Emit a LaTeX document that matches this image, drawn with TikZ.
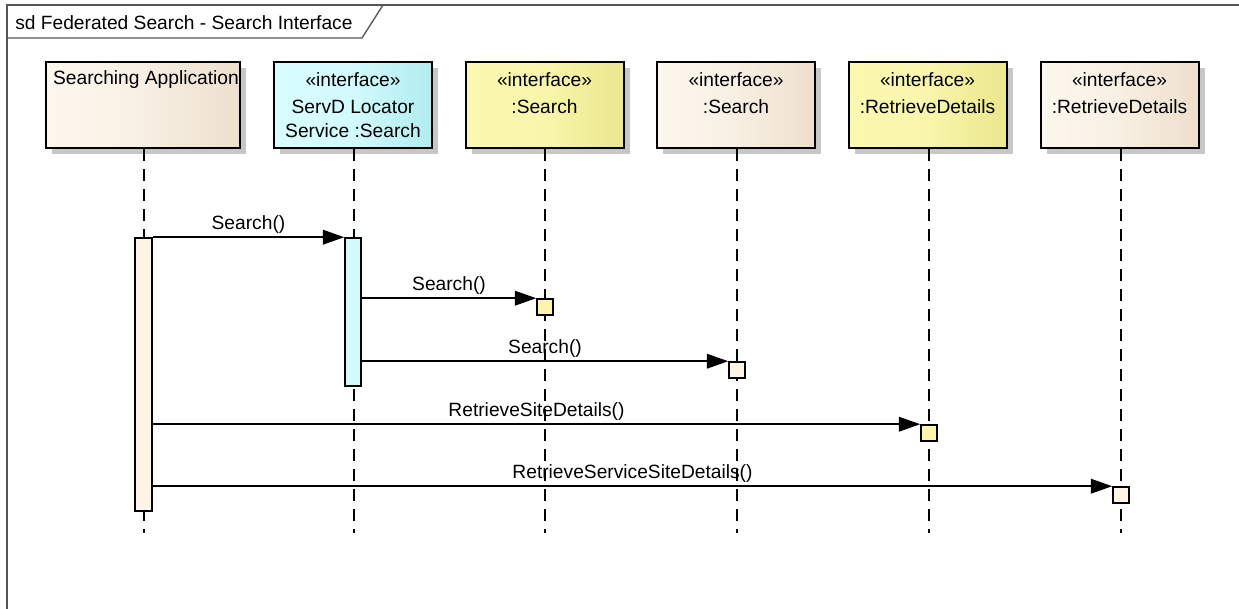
\documentclass[tikz,border=0pt]{standalone}
\usepackage{fontspec}
\setmainfont{Liberation Sans}
\usetikzlibrary{arrows.meta,shadows,calc}
\definecolor{creamL}{HTML}{FDF7EE}
\definecolor{creamR}{HTML}{EDDFCB}
\definecolor{cyanL}{HTML}{D8FDFF}
\definecolor{cyanR}{HTML}{B0ECF0}
\definecolor{yelL}{HTML}{FBF9B0}
\definecolor{yelR}{HTML}{EAE78C}
\definecolor{actcream}{HTML}{FDF4E6}
\definecolor{actcyan}{HTML}{D2FAFC}
\definecolor{actyel}{HTML}{FCF6AC}
\definecolor{framecol}{HTML}{555555}
\tikzset{
  hbox/.style={draw=black, line width=1.5pt, minimum width=118.5pt, minimum height=64.5pt, inner sep=0pt,
    drop shadow={shadow xshift=4.5pt, shadow yshift=-4.5pt, fill=black!22, opacity=1}},
  creambox/.style={hbox, left color=creamL, right color=creamR, middle color=creamL!70!creamR},
  cyanbox/.style={hbox, left color=cyanL, right color=cyanR, middle color=cyanL!85!cyanR},
  yelbox/.style={hbox, left color=yelL, right color=yelR, middle color=yelL!85!yelR},
  txt/.style={font=\fontsize{14.4}{16}\selectfont, inner sep=0pt},
  htxt/.style={txt, yshift=-1.5pt},
  life/.style={line width=1.4pt, dash pattern=on 9pt off 6pt},
  actbox/.style={draw=black, line width=1.2pt, inner sep=0pt, minimum width=12pt},
  msg/.style={line width=1.1pt, -{Triangle[length=16pt,width=11pt]}},
  mlabel/.style={txt, above, inner sep=0pt, yshift=2pt}
}
\begin{document}
\begin{tikzpicture}[x=0.75pt,y=-0.75pt]
\useasboundingbox (0,0) rectangle (1239,608);
% frame
\draw[framecol, line width=1.3pt] (7,620) -- (7,5) -- (1250,5);
\draw[framecol, line width=1pt] (7,38) -- (362,38) -- (383,5);
\node[htxt, anchor=west] (title) at (15,21) {sd Federated Search - Search Interface};

% lifeline heads
\node[creambox, minimum width=145.5pt] (h1) at (143,105) {};
\node[cyanbox] (h2) at (353,105) {};
\node[yelbox] (h3) at (544.5,105) {};
\node[creambox] (h4) at (736,105) {};
\node[yelbox] (h5) at (927.5,105) {};
\node[creambox] (h6) at (1119.5,105) {};

\node[htxt] (t1) at (146,78) {Searching Application};
\node[htxt] (s2) at (353,78) {«interface»};
\node[htxt] (n2a) at (353,105) {ServD Locator};
\node[htxt] (n2b) at (353,129) {Service :Search};
\node[htxt] (s3) at (544.5,78) {«interface»};
\node[htxt] (n3) at (544.5,105) {:Search};
\node[htxt] (s4) at (736,78) {«interface»};
\node[htxt] (n4) at (736,105) {:Search};
\node[htxt] (s5) at (927.5,78) {«interface»};
\node[htxt] (n5) at (927.5,105) {:RetrieveDetails};
\node[htxt] (s6) at (1119.5,78) {«interface»};
\node[htxt] (n6) at (1119.5,105) {:RetrieveDetails};

% lifelines
\coordinate (e1) at (144,533);
\coordinate (e2) at (354,533);
\coordinate (e3) at (545,533);
\coordinate (e4) at (737,533);
\coordinate (e5) at (929,533);
\coordinate (e6) at (1121,533);
\draw[life] (h1.south -| e1) -- (e1);
\draw[life] (h2.south -| e2) -- (e2);
\draw[life] (h3.south -| e3) -- (e3);
\draw[life] (h4.south -| e4) -- (e4);
\draw[life] (h5.south -| e5) -- (e5);
\draw[life] (h6.south -| e6) -- (e6);

% activations
\node[actbox, fill=actcream, minimum width=12.75pt, minimum height=204.75pt] (a1) at (143.5,374.5) {};
\node[actbox, fill=actcyan, minimum height=111pt] (a2) at (353,312) {};
\node[actbox, fill=actyel, minimum height=12pt] (b3) at (545,307) {};
\node[actbox, fill=actcream, minimum height=12pt] (b4) at (737,370) {};
\node[actbox, fill=actyel, minimum height=12pt] (b5) at (929,433) {};
\node[actbox, fill=actcream, minimum height=12pt] (b6) at (1121,495) {};

% messages
\draw[msg] (a1.north east) -- node[mlabel] {Search()} (a2.north west);
\draw[msg] (a2.east |- b3.north) -- node[mlabel] {Search()} (b3.north west);
\draw[msg] (a2.east |- b4.north) -- node[mlabel] {Search()} (b4.north west);
\draw[msg] (a1.east |- b5.north) -- node[mlabel] {RetrieveSiteDetails()} (b5.north west);
\draw[msg] (a1.east |- b6.north) -- node[mlabel] {RetrieveServiceSiteDetails()} (b6.north west);
\end{tikzpicture}
\end{document}
